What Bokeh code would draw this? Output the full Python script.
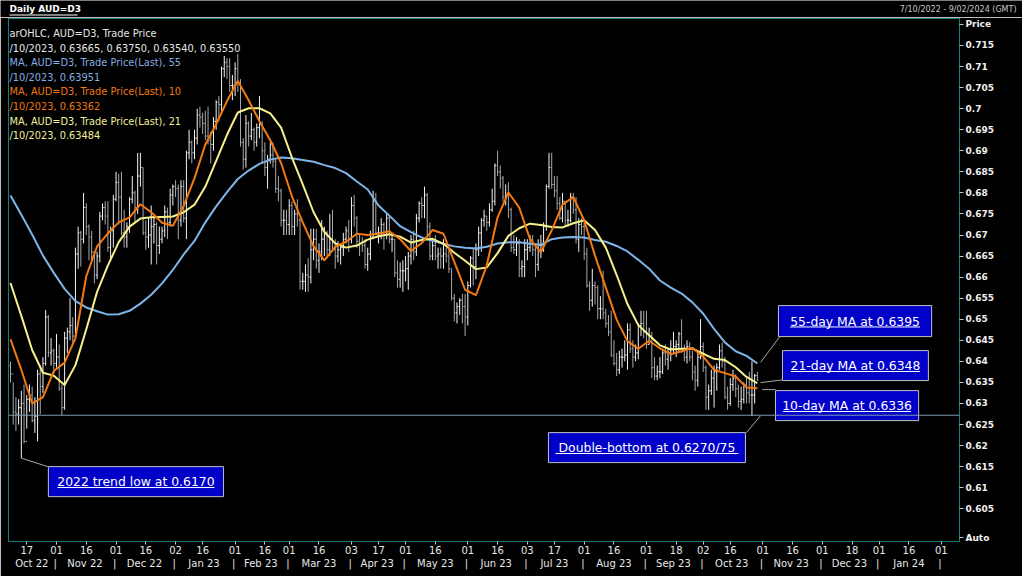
import numpy as np
import pandas as pd
from bokeh.plotting import figure
from bokeh.layouts import column
from bokeh.models import Range1d, LinearAxis, FixedTicker, Span, Label, ColumnDataSource
from bokeh.core.properties import value
from bokeh.embed import file_html
from bokeh.resources import INLINE

# ---------------- data ----------------
START = "2022-10-07"
END = "2023-10-30"
first_open_pips = 6390

high_pips = [
    # Oct 2022
    6400, 6350, 6315, 6310, 6330, 6345, 6320, 6345, 6340, 6315, 6380, 6390, 6410, 6522, 6510, 6455, 6430,
    # Nov 2022
    6465, 6440, 6345, 6470, 6480, 6550, 6505, 6670, 6720, 6710, 6800, 6775, 6725, 6710, 6660, 6660, 6755, 6775, 6780, 6780, 6720, 6795,
    # Dec 2022
    6850, 6845, 6850, 6760, 6730, 6790, 6840, 6805, 6895, 6895, 6860, 6735, 6740, 6770, 6745, 6730, 6720, 6720, 6770, 6765, 6810, 6820,
    # Jan 2023
    6830, 6820, 6830, 6830, 6900, 6950, 6925, 6950, 7000, 7005, 6990, 6995, 7005, 6945, 6980, 7020, 7030, 7100, 7125, 7120, 7120, 7080,
    # Feb 2023
    7110, 7130, 7070, 6930, 6985, 6970, 6990, 6955, 6965, 7030, 6970, 6920, 6890, 6920, 6920, 6880, 6840, 6810, 6760, 6760,
    # Mar 2023
    6785, 6780, 6760, 6785, 6740, 6610, 6630, 6645, 6715, 6715, 6715, 6680, 6735, 6720, 6710, 6750, 6760, 6690, 6685, 6680, 6705, 6720, 6735,
    # Apr 2023
    6790, 6795, 6745, 6700, 6695, 6690, 6670, 6710, 6805, 6800, 6720, 6740, 6730, 6750, 6745, 6700, 6690, 6640, 6635, 6640,
    # May 2023
    6650, 6660, 6700, 6710, 6750, 6780, 6790, 6815, 6800, 6730, 6690, 6700, 6670, 6670, 6690, 6670, 6665, 6620, 6560, 6540, 6550, 6560, 6560,
    # Jun 2023
    6590, 6650, 6670, 6680, 6720, 6740, 6760, 6745, 6775, 6810, 6870, 6900, 6865, 6840, 6820, 6825, 6765, 6700, 6695, 6690, 6640, 6690,
    # Jul 2023
    6690, 6700, 6700, 6680, 6690, 6700, 6730, 6820, 6895, 6895, 6840, 6840, 6790, 6800, 6780, 6760, 6800, 6800, 6790, 6740, 6740,
    # Aug 2023
    6735, 6670, 6590, 6620, 6590, 6580, 6555, 6615, 6525, 6510, 6520, 6450, 6420, 6425, 6430, 6450, 6490, 6490, 6450, 6440, 6490, 6520, 6520,
    # Sep 2023
    6520, 6480, 6470, 6410, 6390, 6410, 6430, 6440, 6430, 6450, 6470, 6450, 6470, 6500, 6440, 6450, 6445, 6425, 6390, 6425, 6500,
    # Oct 2023
    6445, 6390, 6345, 6380, 6390, 6395, 6440, 6445, 6410, 6340, 6360, 6380, 6370, 6345, 6340, 6350, 6360, 6375, 6400, 6370, 6375,
]
low_pips = [
    6350, 6250, 6235, 6250, 6170, 6205, 6240, 6280, 6255, 6230, 6210, 6275, 6325, 6390, 6410, 6390, 6370,
    6385, 6330, 6272, 6285, 6420, 6450, 6445, 6455, 6620, 6625, 6680, 6700, 6640, 6640, 6585, 6595, 6635, 6735, 6725, 6660, 6640, 6670,
    6780, 6725, 6700, 6670, 6670, 6705, 6775, 6730, 6750, 6815, 6700, 6665, 6670, 6630, 6680, 6630, 6655, 6680, 6695, 6690, 6720, 6770,
    6790, 6690, 6720, 6730, 6690, 6880, 6870, 6880, 6915, 6955, 6940, 6925, 6915, 6870, 6900, 6950, 6970, 6995, 7075, 7070, 7040, 7020,
    7030, 7040, 6910, 6855, 6860, 6910, 6925, 6900, 6910, 6930, 6870, 6840, 6810, 6870, 6860, 6800, 6780, 6720, 6700, 6700,
    6700, 6700, 6700, 6720, 6570, 6570, 6565, 6565, 6585, 6640, 6620, 6610, 6640, 6650, 6645, 6650, 6660, 6620, 6635, 6630, 6650, 6680, 6660,
    6680, 6720, 6670, 6650, 6660, 6620, 6615, 6640, 6690, 6700, 6680, 6690, 6665, 6690, 6680, 6660, 6600, 6575, 6575, 6565,
    6590, 6570, 6630, 6640, 6650, 6730, 6740, 6740, 6700, 6640, 6640, 6640, 6620, 6620, 6620, 6635, 6610, 6545, 6495, 6490, 6510, 6490, 6460,
    6485, 6575, 6580, 6595, 6650, 6660, 6720, 6710, 6720, 6755, 6770, 6840, 6810, 6780, 6770, 6740, 6660, 6655, 6650, 6600, 6600, 6600,
    6640, 6660, 6650, 6600, 6615, 6645, 6660, 6710, 6810, 6810, 6790, 6760, 6735, 6730, 6720, 6720, 6730, 6750, 6680, 6660, 6700,
    6640, 6575, 6520, 6530, 6535, 6500, 6500, 6500, 6480, 6460, 6410, 6390, 6365, 6370, 6385, 6400, 6380, 6420, 6385, 6400, 6405, 6460, 6455,
    6430, 6440, 6360, 6355, 6355, 6360, 6370, 6390, 6380, 6400, 6420, 6410, 6420, 6420, 6400, 6395, 6400, 6355, 6330, 6340, 6405,
    6375, 6285, 6285, 6320, 6290, 6330, 6380, 6385, 6310, 6285, 6295, 6330, 6315, 6290, 6285, 6300, 6300, 6300, 6270, 6300, 6354,
]
close_pips = [
    6370, 6280, 6275, 6290, 6300, 6210, 6310, 6320, 6260, 6270, 6370, 6340, 6395, 6505, 6420, 6425, 6395,
    6410, 6335, 6290, 6455, 6470, 6485, 6460, 6655, 6705, 6690, 6765, 6720, 6695, 6660, 6605, 6650, 6745, 6765, 6745, 6670, 6710, 6785,
    6825, 6790, 6705, 6695, 6720, 6785, 6800, 6765, 6840, 6860, 6705, 6695, 6700, 6720, 6725, 6675, 6690, 6710, 6755, 6730, 6795, 6815,
    6810, 6735, 6815, 6740, 6895, 6920, 6895, 6930, 6985, 6980, 6965, 6935, 6925, 6915, 6970, 7015, 7010, 7095, 7110, 7100, 7055, 7055,
    7095, 7060, 6920, 6880, 6965, 6935, 6950, 6920, 6955, 6965, 6900, 6860, 6880, 6890, 6875, 6810, 6805, 6735, 6735, 6725,
    6770, 6720, 6750, 6735, 6590, 6590, 6605, 6600, 6665, 6690, 6640, 6660, 6690, 6705, 6665, 6690, 6665, 6650, 6665, 6670, 6690, 6710, 6690,
    6770, 6740, 6685, 6680, 6675, 6630, 6655, 6695, 6780, 6705, 6705, 6725, 6700, 6740, 6690, 6690, 6610, 6595, 6615, 6615,
    6620, 6650, 6690, 6660, 6740, 6775, 6770, 6795, 6720, 6650, 6675, 6650, 6655, 6650, 6655, 6650, 6620, 6550, 6515, 6530, 6545, 6530, 6505,
    6580, 6645, 6625, 6665, 6705, 6735, 6745, 6730, 6760, 6780, 6865, 6850, 6835, 6790, 6795, 6760, 6670, 6665, 6680, 6620, 6625, 6665,
    6670, 6690, 6665, 6630, 6675, 6675, 6720, 6815, 6860, 6820, 6805, 6775, 6740, 6780, 6735, 6735, 6790, 6760, 6690, 6725, 6720,
    6655, 6580, 6545, 6580, 6575, 6525, 6525, 6515, 6490, 6470, 6415, 6395, 6380, 6410, 6410, 6415, 6475, 6430, 6410, 6420, 6485, 6490, 6470,
    6440, 6460, 6385, 6365, 6375, 6375, 6420, 6405, 6420, 6430, 6435, 6440, 6465, 6425, 6410, 6435, 6410, 6375, 6355, 6410, 6435,
    6385, 6315, 6330, 6360, 6375, 6385, 6425, 6400, 6315, 6300, 6345, 6360, 6335, 6305, 6310, 6345, 6325, 6320, 6320, 6366, 6355,
]

# moving averages, read every 4th trading day from the first bar
ma_step = 4
ma10 = [0.6452, 0.6380, 0.6300, 0.6315, 0.6377, 0.6397, 0.6455, 0.6602, 0.6673, 0.6704,
        0.6730, 0.6742, 0.6773, 0.6754, 0.6729, 0.6722, 0.6769, 0.6835, 0.6915, 0.6963,
        0.7018, 0.7066, 0.7020, 0.6970, 0.6925, 0.6871, 0.6792, 0.6730, 0.6673, 0.6640,
        0.6672, 0.6684, 0.6703, 0.6700, 0.6703, 0.6709, 0.6690, 0.6662, 0.6681, 0.6712,
        0.6703, 0.6636, 0.6570, 0.6557, 0.6628, 0.6742, 0.6801, 0.6765, 0.6690, 0.6659,
        0.6711, 0.6772, 0.6790, 0.6735, 0.6651, 0.6575, 0.6499, 0.6448, 0.6430, 0.6449,
        0.6431, 0.6417, 0.6424, 0.6432, 0.6411, 0.6380, 0.6372, 0.6364, 0.6338, 0.6336]
ma21 = [0.6586, 0.6508, 0.6427, 0.6373, 0.6366, 0.6344, 0.6391, 0.6476, 0.6565, 0.6628,
        0.6683, 0.6720, 0.6739, 0.6742, 0.6743, 0.6744, 0.6754, 0.6772, 0.6815, 0.6876,
        0.6938, 0.6991, 0.7001, 0.7001, 0.6989, 0.6955, 0.6884, 0.6820, 0.6754, 0.6707,
        0.6680, 0.6670, 0.6675, 0.6689, 0.6697, 0.6702, 0.6696, 0.6682, 0.6688, 0.6691,
        0.6679, 0.6658, 0.6639, 0.6619, 0.6623, 0.6657, 0.6698, 0.6716, 0.6727, 0.6724,
        0.6719, 0.6718, 0.6728, 0.6735, 0.6712, 0.6670, 0.6605, 0.6536, 0.6486, 0.6462,
        0.6438, 0.6428, 0.6430, 0.6430, 0.6418, 0.6406, 0.6403, 0.6386, 0.6363, 0.6348]
ma55 = [0.6794, 0.6748, 0.6701, 0.6651, 0.6610, 0.6572, 0.6543, 0.6528, 0.6519, 0.6511,
        0.6512, 0.6520, 0.6537, 0.6558, 0.6585, 0.6617, 0.6654, 0.6686, 0.6730, 0.6768,
        0.6802, 0.6833, 0.6853, 0.6869, 0.6879, 0.6884, 0.6882, 0.6878, 0.6874, 0.6866,
        0.6859, 0.6847, 0.6827, 0.6808, 0.6770, 0.6746, 0.6721, 0.6707, 0.6694, 0.6686,
        0.6679, 0.6673, 0.6670, 0.6668, 0.6672, 0.6680, 0.6683, 0.6683, 0.6679, 0.6677,
        0.6690, 0.6694, 0.6695, 0.6694, 0.6688, 0.6684, 0.6674, 0.6661, 0.6641, 0.6620,
        0.6592, 0.6575, 0.6561, 0.6540, 0.6513, 0.6477, 0.6445, 0.6424, 0.6413, 0.6395]

support_level = 0.6272

price_ticks = [0.605, 0.61, 0.615, 0.62, 0.625, 0.63, 0.635, 0.64, 0.645, 0.65, 0.655, 0.66,
               0.665, 0.67, 0.675, 0.68, 0.685, 0.69, 0.695, 0.7, 0.705, 0.71, 0.715]
price_title_level = 0.72      # where the "Price" caption sits on the scale
auto_level = 0.5981           # where the "Auto" caption sits on the scale
day_tick_dates = ["2022-10-17", "2022-11-01", "2022-11-16", "2022-12-01", "2022-12-16", "2023-01-02",
                  "2023-01-16", "2023-02-01", "2023-02-16", "2023-03-01", "2023-03-16", "2023-04-03",
                  "2023-04-17", "2023-05-01", "2023-05-16", "2023-06-01", "2023-06-16", "2023-07-03",
                  "2023-07-17", "2023-08-01", "2023-08-16", "2023-09-01", "2023-09-18", "2023-10-02",
                  "2023-10-16", "2023-11-01", "2023-11-16", "2023-12-01", "2023-12-18", "2024-01-01",
                  "2024-01-16", "2024-02-01"]
month_starts = ["2022-10-01", "2022-11-01", "2022-12-01", "2023-01-01", "2023-02-01", "2023-03-01",
                "2023-04-01", "2023-05-01", "2023-06-01", "2023-07-01", "2023-08-01", "2023-09-01",
                "2023-10-01", "2023-11-01", "2023-12-01", "2024-01-01", "2024-02-01"]

title_text = "Daily AUD=D3"
range_text = "7/10/2022 - 9/02/2024 (GMT)"
legend_lines = ["arOHLC, AUD=D3, Trade Price",
                "/10/2023, 0.63665, 0.63750, 0.63540, 0.63550",
                "MA, AUD=D3, Trade Price(Last),  55",
                "/10/2023, 0.63951",
                "MA, AUD=D3, Trade Price(Last),  10",
                "/10/2023, 0.63362",
                "MA, AUD=D3, Trade Price(Last),  21",
                "/10/2023, 0.63484"]

ann_text = ["55-day MA at 0.6395", "21-day MA at 0.6348", "10-day MA at 0.6336",
            "Double-bottom at 0.6270/75", "2022 trend low at 0.6170"]
ann_left = [283.8, 285.3, 282.7, 198.8, 14.0]
ann_right = [340.4, 339.2, 335.6, 271.6, 78.7]
ann_top = [0.65324, 0.64255, 0.63305, 0.62308, 0.61500]
ann_bottom = [0.64588, 0.63543, 0.62593, 0.61595, 0.60787]
ann_text_w = [48.0, 47.7, 47.3, 67.6, 58.0]
ptr_x0 = [277.2, 277.2, 277.8, 277.2, 4.0]
ptr_y0 = [0.63978, 0.63495, 0.63329, 0.62711, 0.6170]
ptr_x1 = [284.3, 285.3, 282.7, 272.0, 13.8]
ptr_y1 = [0.64588, 0.63559, 0.63329, 0.62308, 0.61500]

# ---------------- build ----------------
dates = pd.bdate_range(START, END)
n = len(dates)
assert len(high_pips) == n and len(low_pips) == n and len(close_pips) == n

d0 = np.datetime64(START, "D")
def bidx(d):
    return int(np.busday_count(d0, np.datetime64(d, "D")))

xi = np.array([bidx(d.strftime("%Y-%m-%d")) for d in dates], dtype=float)
hi = np.array(high_pips) / 10000.0
lo = np.array(low_pips) / 10000.0
cl = np.array(close_pips) / 10000.0
op = np.concatenate([[first_open_pips], close_pips[:-1]]) / 10000.0
col = np.where(cl >= op, "#f4f4f4", "#a8a8a8")

XMIN, XMAX = -0.74, 350.7
YMIN, YMAX = 0.59722, 0.72141

# ---- header strip (title and date range) ----
hdr = figure(width=1022, height=17, x_range=Range1d(0, 1022), y_range=Range1d(17, 0),
             output_backend="svg", toolbar_location=None, x_axis_location=None, y_axis_location=None,
             background_fill_color="black", border_fill_color="black",
             min_border_left=0, min_border_right=0, min_border_top=0, min_border_bottom=0)
hdr.frame_align = False
hdr.outline_line_color = None
hdr.xgrid.visible = False
hdr.ygrid.visible = False
hdr.text(x=[9], y=[8.5], text=[title_text], text_color="white", text_font=value("DejaVu Sans"),
         text_font_style="bold", text_font_size="9px", text_baseline="middle")
hdr.segment(x0=[9], y0=[14.5], x1=[77], y1=[14.5], line_color="white", line_width=1)
hdr.text(x=[1016], y=[8.5], text=[range_text], text_color="#c8c8c8", text_font=value("DejaVu Sans"),
         text_font_size="8px", text_baseline="middle", text_align="right")

# ---- main chart ----
p = figure(width=1022, height=559, x_range=Range1d(XMIN, XMAX), y_range=Range1d(YMIN, YMAX),
           output_backend="svg", toolbar_location=None, x_axis_location=None, y_axis_location=None,
           background_fill_color="black", border_fill_color="black",
           min_border_left=8, min_border_right=63, min_border_top=1, min_border_bottom=35)
p.frame_align = False
p.outline_line_color = "#168080"
p.outline_line_width = 1
p.xgrid.visible = False
p.ygrid.visible = False

# right price axis (with the "Price" caption on top and "Auto" at the bottom)
y_ticks = price_ticks + [price_title_level, auto_level]
y_labels = {t: str(t) for t in price_ticks}
y_labels[price_title_level] = "Price"
y_labels[auto_level] = "Auto"
yax = LinearAxis(ticker=FixedTicker(ticks=y_ticks), major_label_overrides=y_labels)
yax.axis_line_color = None
yax.major_tick_out = 4
yax.major_tick_in = 0
yax.minor_tick_out = 0
yax.minor_tick_in = 0
yax.major_tick_line_color = "#c8c8c8"
yax.major_label_standoff = 2
yax.major_label_text_color = "#f0f0f0"
yax.major_label_text_font = "DejaVu Sans"
yax.major_label_text_font_style = "bold"
yax.major_label_text_font_size = "9px"
p.add_layout(yax, "right")

# bottom day-number axis
day_x = [bidx(d) for d in day_tick_dates]
xax = LinearAxis(ticker=FixedTicker(ticks=day_x),
                 major_label_overrides={x: pd.Timestamp(d).strftime("%d") for x, d in zip(day_x, day_tick_dates)})
xax.axis_line_color = None
xax.major_tick_out = 3
xax.major_tick_in = 0
xax.minor_tick_out = 0
xax.minor_tick_in = 0
xax.major_tick_line_color = "#c8c8c8"
xax.major_label_standoff = 1
xax.major_label_text_color = "#e8e8e8"
xax.major_label_text_font = "DejaVu Sans"
xax.major_label_text_font_size = "10px"
p.add_layout(xax, "below")

# bottom month axis: labels centred in each month, "|" separators at month starts
m_idx = [bidx(d) - 0.5 for d in month_starts]
m_ticks, m_labels = [], []
for k in range(len(month_starts) - 1):
    a = max(m_idx[k], XMIN)
    b = m_idx[k + 1]
    m_ticks.append(round((a + b) / 2.0, 2))
    m_labels.append(pd.Timestamp(month_starts[k]).strftime("%b %y"))
for k in range(1, len(month_starts)):
    m_ticks.append(m_idx[k])
    m_labels.append("|")
max_ = LinearAxis(ticker=FixedTicker(ticks=m_ticks),
                  major_label_overrides={t: l for t, l in zip(m_ticks, m_labels)})
max_.axis_line_color = None
max_.major_tick_out = 0
max_.major_tick_in = 0
max_.minor_tick_out = 0
max_.minor_tick_in = 0
max_.major_label_standoff = 1
max_.major_label_text_color = "#e8e8e8"
max_.major_label_text_font = "DejaVu Sans"
max_.major_label_text_font_size = "10px"
p.add_layout(max_, "below")

# support line
p.add_layout(Span(location=support_level, dimension="width", line_color="#7f98ad", line_width=1))

# OHLC bars
bars = ColumnDataSource(dict(x=xi, hi=hi, lo=lo, op=op, cl=cl, xl=xi - 0.42, xr=xi + 0.42, c=col))
p.segment(x0="x", y0="lo", x1="x", y1="hi", source=bars, line_color="c", line_width=1)
p.segment(x0="xl", y0="op", x1="x", y1="op", source=bars, line_color="c", line_width=1)
p.segment(x0="x", y0="cl", x1="xr", y1="cl", source=bars, line_color="c", line_width=1)

# moving averages
mx = xi[::ma_step]
p.line(mx, ma55, line_color="#7fb4e8", line_width=2)
p.line(mx, ma21, line_color="#f6f08a", line_width=2)
p.line(mx, ma10, line_color="#f47a10", line_width=2)

# annotation boxes with pointers
for k in range(len(ann_text)):
    p.line([ptr_x0[k], ptr_x1[k]], [ptr_y0[k], ptr_y1[k]], line_color="#a8a8a8", line_width=1)
p.quad(left=ann_left, right=ann_right, top=ann_top, bottom=ann_bottom,
       fill_color="#0000c8", line_color="#c0c0c0", line_width=1)
cx = [(a + b) / 2 for a, b in zip(ann_left, ann_right)]
cy = [(a + b) / 2 for a, b in zip(ann_top, ann_bottom)]
p.text(x=cx, y=cy, text=ann_text, text_align="center", text_baseline="middle",
       text_color="white", text_font=value("DejaVu Sans"), text_font_size="12.4px")
ul = p.segment(x0=[c - w / 2 for c, w in zip(cx, ann_text_w)], x1=[c + w / 2 for c, w in zip(cx, ann_text_w)],
               y0=[c - 0.0014 for c in cy], y1=[c - 0.0014 for c in cy], line_color="white", line_width=1)
ul.level = "overlay"

# legend block (text as it appears, cut at the frame edge)
leg_cols = ["#e6e6e6", "#e6e6e6", "#86aee0", "#86aee0", "#ee7a12", "#ee7a12", "#efef9c", "#efef9c"]
for k, (t, c) in enumerate(zip(legend_lines, leg_cols)):
    yc = 33 + 14.6 * k
    p.add_layout(Label(x=1, y=541 - yc, x_units="screen", y_units="screen", text=t, text_color=c,
                       text_font="DejaVu Sans", text_font_size="9.8px", text_baseline="middle"))

layout = column(hdr, p, spacing=0)

html = file_html(layout, INLINE, title="Daily AUD=D3")
html = html.replace("<body>", '<body style="margin:0;padding:0;background-color:#000000;overflow:hidden;">', 1)
with open("out.html", "w") as f:
    f.write(html)
